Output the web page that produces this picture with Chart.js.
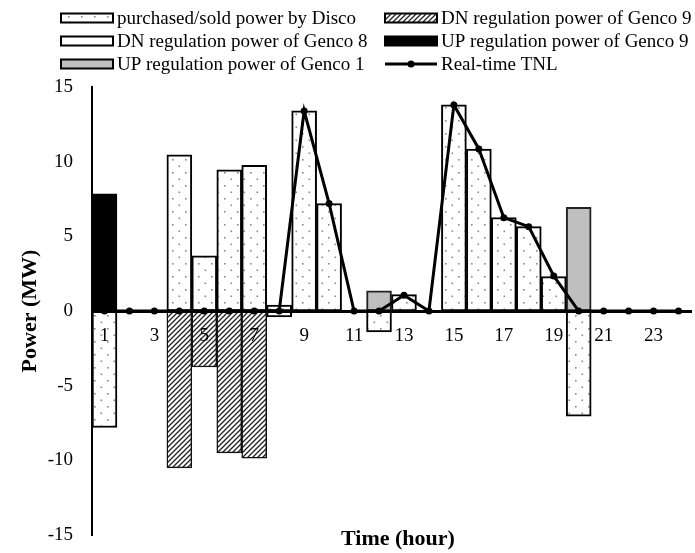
<!DOCTYPE html>
<html>
<head>
<meta charset="utf-8">
<script src="https://cdn.jsdelivr.net/npm/chart.js@4.4.0/dist/chart.umd.min.js"></script>
<style>
  html, body { margin: 0; padding: 0; background: #fff; }
</style>
</head>
<body>
<canvas id="MyChart" width="695" height="553"></canvas>
<script>
// fuente tipo Times para todo el grafico
Chart.defaults.font.family = '"Liberation Serif", "Times New Roman", serif';
Chart.defaults.font.size = 19;
Chart.defaults.color = '#000';

const ctx = document.getElementById('MyChart');

// horas del dia (eje x)
const horas = ['1','2','3','4','5','6','7','8','9','10','11','12','13','14','15','16','17','18','19','20','21','22','23','24'];
// valores en MW por hora, null = sin barra
const disco    = [-7.8, null, null, 10.45, 3.7, 9.45, 9.75, 0.4, 13.4, 7.2, null, -1.4, 1.1, null, 13.8, 10.85, 6.25, 5.65, 2.3, -7.05, null, null, null, null];
const dnGenco9 = [null, null, null, -10.5, -3.75, -9.5, -9.85, null, null, null, null, null, null, null, null, null, null, null, null, null, null, null, null, null];
const dnGenco8 = [null, null, null, null, null, null, null, -0.4, null, null, null, null, null, null, null, null, null, null, null, null, null, null, null, null];
const upGenco9 = [7.85, null, null, null, null, null, null, null, null, null, null, null, null, null, null, null, null, null, null, null, null, null, null, null];
const upGenco1 = [null, null, null, null, null, null, null, null, null, null, null, 1.35, null, null, null, null, null, null, null, 6.95, null, null, null, null];
const tnl      = [0, 0, 0, 0, 0, 0, 0, 0, 13.4, 7.2, 0, 0, 1.05, 0, 13.8, 10.85, 6.25, 5.65, 2.35, 0, 0, 0, 0, 0];

// patrones de relleno (puntos y rayas)
function patronPuntos() {
  const c = document.createElement('canvas');
  c.width = 13; c.height = 13;
  const g = c.getContext('2d');
  g.fillStyle = '#fff';
  g.fillRect(0, 0, 13, 13);
  g.fillStyle = '#8a8a8a';
  g.fillRect(3, 3, 1.6, 1.6);
  g.fillRect(9.5, 9.5, 1.6, 1.6);
  return g.createPattern(c, 'repeat');
}
function patronRayas() {
  const c = document.createElement('canvas');
  c.width = 5; c.height = 5;
  const g = c.getContext('2d');
  g.fillStyle = '#fff';
  g.fillRect(0, 0, 5, 5);
  g.strokeStyle = '#222';
  g.lineWidth = 1.3;
  g.beginPath();
  g.moveTo(-1, 6); g.lineTo(6, -1);
  g.moveTo(-1, 1); g.lineTo(1, -1);
  g.moveTo(4, 6); g.lineTo(6, 4);
  g.stroke();
  return g.createPattern(c, 'repeat');
}
const puntos = patronPuntos();
const rayas = patronRayas();

// leyenda dibujada a mano en dos columnas
const leyendaManual = {
  id: 'leyendaManual',
  afterDraw(chart) {
    const c = chart.ctx;
    const sets = chart.data.datasets;
    const cols = [61, 385];
    const filas = [18, 41, 64];
    c.save();
    sets.forEach((d, i) => {
      const x = cols[i % 2];
      const y = filas[Math.floor(i / 2)];
      if (d.type === 'line') {
        c.strokeStyle = '#000';
        c.lineWidth = 3;
        c.beginPath();
        c.moveTo(x, y); c.lineTo(x + 52, y);
        c.stroke();
        c.fillStyle = '#000';
        c.beginPath();
        c.arc(x + 26, y, 3.5, 0, Math.PI * 2);
        c.fill();
      } else {
        c.fillStyle = d.backgroundColor;
        c.fillRect(x, y - 4.5, 52, 9);
        c.strokeStyle = '#000';
        c.lineWidth = 2;
        c.strokeRect(x, y - 4.5, 52, 9);
      }
      c.fillStyle = '#000';
      c.font = '19px "Liberation Serif", serif';
      c.textAlign = 'left';
      c.textBaseline = 'middle';
      c.fillText(d.label, x + 56, y + 1);
    });
    // titulo del eje x
    c.font = 'bold 22px "Liberation Serif", serif';
    c.textAlign = 'center';
    c.textBaseline = 'middle';
    c.fillText('Time (hour)', 398, 539);
    c.restore();
  }
};

const myChart = new Chart(ctx, {
  data: {
    labels: horas,
    datasets: [
      { type: 'bar', label: 'purchased/sold power by Disco', data: disco, backgroundColor: puntos, borderColor: '#000', borderWidth: 2, borderSkipped: false, order: 2 },
      { type: 'bar', label: 'DN regulation power of Genco 9', data: dnGenco9, backgroundColor: rayas, borderColor: '#111', borderWidth: 1.5, borderSkipped: false, order: 2 },
      { type: 'bar', label: 'DN regulation power of Genco 8', data: dnGenco8, backgroundColor: '#fff', borderColor: '#000', borderWidth: 2, borderSkipped: false, order: 2 },
      { type: 'bar', label: 'UP regulation power of Genco 9', data: upGenco9, backgroundColor: '#000', borderColor: '#000', borderWidth: 2, borderSkipped: false, order: 2 },
      { type: 'bar', label: 'UP regulation power of Genco 1', data: upGenco1, backgroundColor: '#bfbfbf', borderColor: '#222', borderWidth: 2, borderSkipped: false, order: 2 },
      { type: 'line', label: 'Real-time TNL', data: tnl, stack: 'tnl', borderColor: '#000', borderWidth: 3, pointRadius: 3.5, pointBackgroundColor: '#000', pointBorderWidth: 0, tension: 0, order: 0 }
    ]
  },
  options: {
    responsive: false,
    animation: false,
    datasets: { bar: { barPercentage: 1, categoryPercentage: 1 } },
    layout: { padding: { top: 87, bottom: 18, left: 0, right: -10 } },
    plugins: { legend: { display: false }, tooltip: { enabled: false } },
    scales: {
      x: {
        stacked: true,
        position: { y: 0 },
        grid: { display: false, drawTicks: false },
        border: { display: true, color: '#000', width: 3, z: 1 },
        ticks: {
          z: 1,
          autoSkip: false,
          maxRotation: 0,
          padding: 14,
          callback: (v, i) => (i % 2 === 0 ? horas[i] : '')
        },
        afterFit: s => { s.height = 0; s.paddingTop = 0; s.paddingBottom = 0; }
      },
      y: {
        stacked: true,
        min: -15,
        max: 15,
        grid: { display: false, drawTicks: false },
        border: { display: true, color: '#000', width: 2 },
        ticks: { stepSize: 5, padding: 19 },
        title: { display: true, text: 'Power (MW)', font: { size: 22, weight: 'bold' }, padding: { top: 17, bottom: 0 } },
        afterFit: s => { s.width = 92; s.paddingTop = 0; s.paddingBottom = 0; }
      }
    }
  },
  plugins: [leyendaManual]
});
</script>
</body>
</html>
